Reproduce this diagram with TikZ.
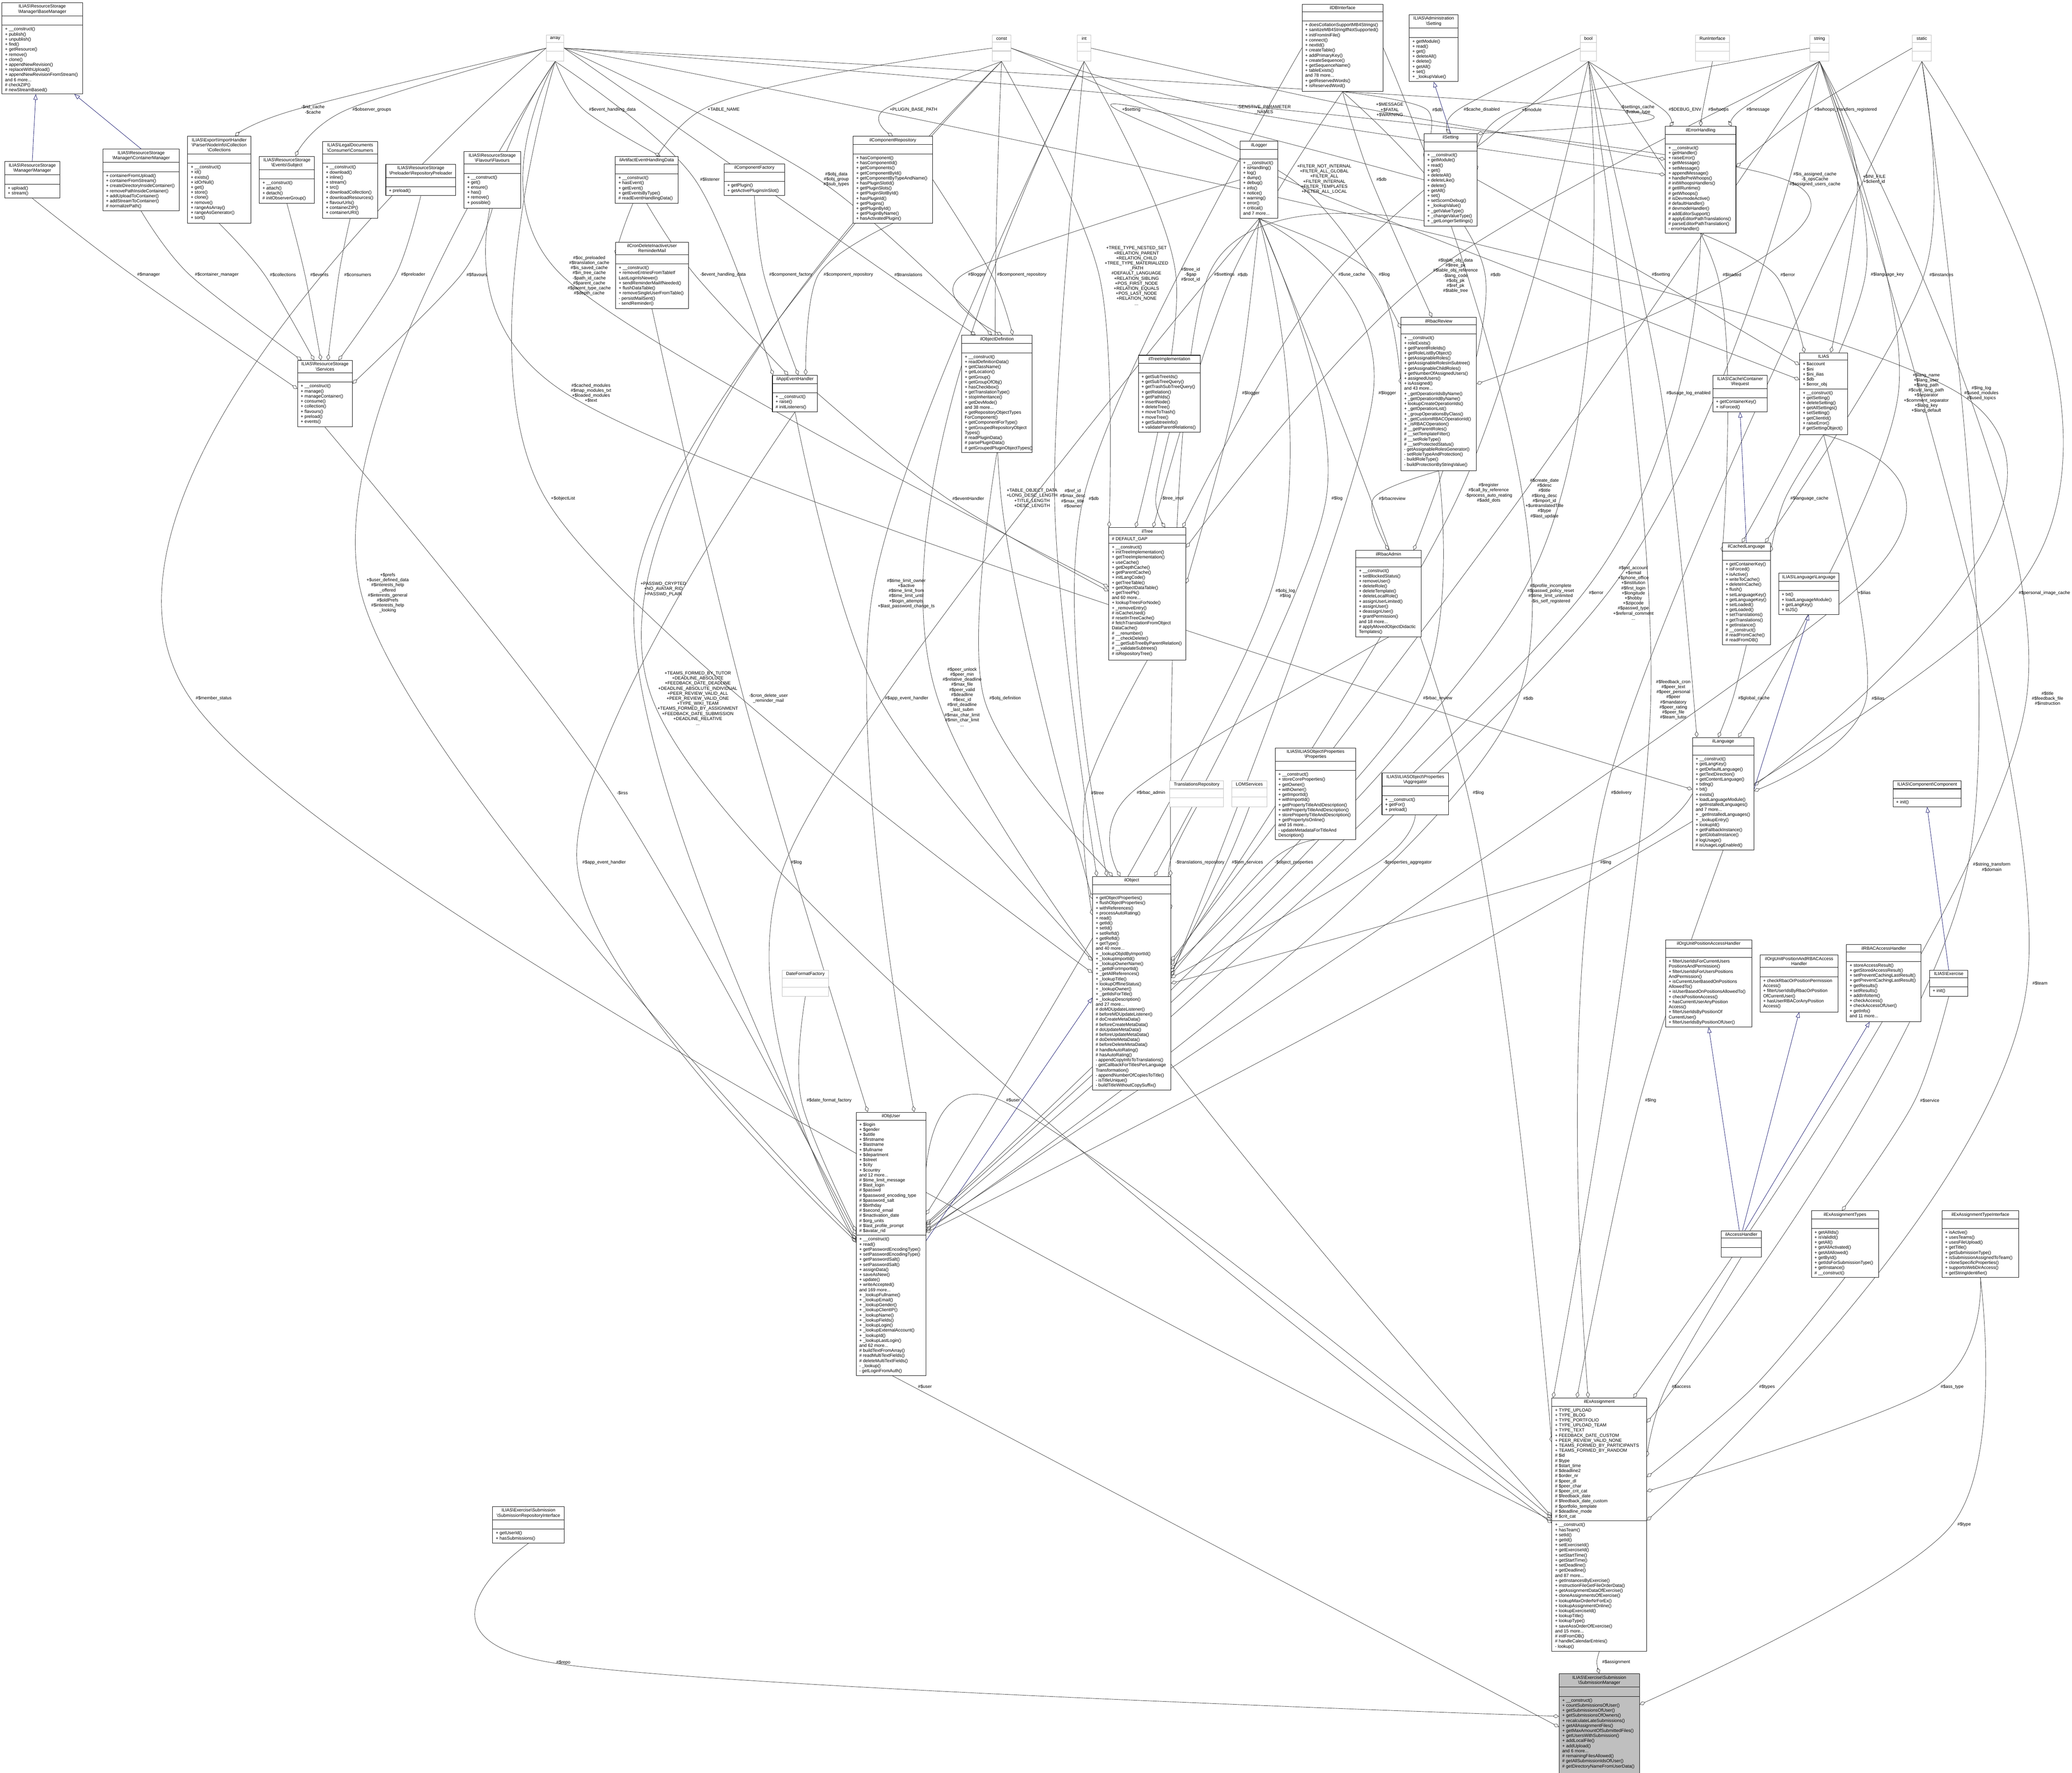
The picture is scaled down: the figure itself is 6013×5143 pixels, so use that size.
\documentclass[tikz,border=0pt]{standalone}
\usepackage{fontspec}
\setmainfont{Liberation Sans}
\usetikzlibrary{arrows.meta,backgrounds}
\definecolor{edgec}{HTML}{404040}
\definecolor{navyc}{HTML}{191970}
\definecolor{greyc}{HTML}{BFBFBF}
\newcommand\tf{\fontsize{3.7pt}{4.18pt}\selectfont}
\newcommand\bs{\textbackslash}
\tikzset{
 frame/.style={draw=black, line width=0.35pt, fill=white, inner sep=0pt},
 gframe/.style={draw=greyc, line width=0.35pt, fill=white, inner sep=0pt},
 ttl/.style={align=center, inner ysep=0.55mm, inner xsep=0.6mm, font=\tf},
 mem/.style={align=left, inner ysep=0.55mm, inner xsep=0.9mm, font=\tf},
 sepl/.style={line width=0.35pt},
 lbl/.style={align=center, font=\tf, inner sep=0.3mm},
 aggr/.style={draw=edgec, line width=0.3pt, -{Diamond[open,length=1.8mm,width=1.1mm]}},
 inhr/.style={draw=navyc, line width=0.3pt, -{Triangle[open,length=1.6mm,width=1.2mm]}},
}
% [style] id, pos, w, h, title, attrs, methods
\newcommand\clsbox[8][frame]{%
 \node[#1, minimum width=#4*0.1mm, minimum height=#5*0.1mm, anchor=north west] (#2) at (#3) {};
 \node[ttl, anchor=north] (#2-t) at (#2.north) {#6};
 \draw[sepl] (#2-t.south -| #2.west) -- (#2-t.south -| #2.east);
 \node[mem, anchor=north west] (#2-a) at (#2-t.south -| #2.west) {#7};
 \draw[sepl] (#2-a.south -| #2.west) -- (#2-a.south -| #2.east);
 \node[mem, anchor=north west] (#2-m) at (#2-a.south -| #2.west) {#8};
}
\newcommand\greybox[4]{% id, pos, w, title
 \node[gframe, minimum width=#3*0.1mm, minimum height=7.6mm, anchor=north west] (#1) at (#2) {};
 \node[ttl, anchor=north] (#1-t) at (#1.north) {#4};
 \draw[greyc, line width=0.35pt] (#1-t.south -| #1.west) -- (#1-t.south -| #1.east);
 \draw[greyc, line width=0.35pt] ([yshift=-2.6mm]#1-t.south -| #1.west) -- ([yshift=-2.6mm]#1-t.south -| #1.east);
}
\newcommand\lab[3]{\node[lbl] (#1) at (#2) {#3};}
\newcommand\agg[3]{\path ([xshift=-1.2mm]#2.west) coordinate (tmpc); \draw[aggr] plot[smooth,tension=0.55] coordinates {(#1) (tmpc) (#3)};}
\newcommand\inh[2]{\draw[inhr] (#1) -- (#2);}
\begin{document}
\begin{tikzpicture}[x=0.1mm, y=-0.1mm]
\useasboundingbox (0,0) rectangle (6013,5143);
% ---------- boxes ----------
\clsbox{bm}{5,7}{234}{265}{ILIAS\bs ResourceStorage\\\bs Manager\bs BaseManager}{\strut}{+ \_\_construct()\\+ publish()\\+ unpublish()\\+ find()\\+ getResource()\\+ remove()\\+ clone()\\+ appendNewRevision()\\+ replaceWithUpload()\\+ appendNewRevisionFromStream()\\and 6 more...\\\# checkZIP()\\\# newStreamBased()}
\clsbox{man}{13,468}{160}{106}{ILIAS\bs ResourceStorage\\\bs Manager\bs Manager}{\strut}{+ upload()\\+ stream()}
\clsbox{cm}{298,432}{222}{179}{ILIAS\bs ResourceStorage\\\bs Manager\bs ContainerManager}{\strut}{+ containerFromUpload()\\+ containerFromStream()\\+ createDirectoryInsideContainer()\\+ removePathInsideContainer()\\+ addUploadToContainer()\\+ addStreamToContainer()\\\# normalizePath()}
\clsbox{col}{544,395}{183}{252}{ILIAS\bs Export\bs ImportHandler\\\bs Parser\bs NodeInfo\bs Collection\\\bs Collections}{\strut}{+ \_\_construct()\\+ id()\\+ exists()\\+ idOrNull()\\+ get()\\+ store()\\+ clone()\\+ remove()\\+ rangeAsArray()\\+ rangeAsGenerator()\\+ sort()}
\clsbox{subj}{752,453}{160}{136}{ILIAS\bs ResourceStorage\\\bs Events\bs Subject}{\strut}{+ \_\_construct()\\+ attach()\\+ detach()\\\# initObserverGroup()}
\clsbox{cons}{936,410}{159}{223}{ILIAS\bs LegalDocuments\\\bs Consumer\bs Consumers}{\strut}{+ \_\_construct()\\+ download()\\+ inline()\\+ stream()\\+ src()\\+ downloadCollection()\\+ downloadResources()\\+ flavourUrls()\\+ containerZIP()\\+ containerURI()}
\clsbox{pre}{1119,476}{203}{91}{ILIAS\bs ResourceStorage\\\bs Preloader\bs RepositoryPreloader}{\strut}{+ preload()}
\clsbox{flav}{1346,439}{164}{165}{ILIAS\bs ResourceStorage\\\bs Flavour\bs Flavours}{\strut}{+ \_\_construct()\\+ get()\\+ ensure()\\+ has()\\+ remove()\\+ possible()}
\clsbox{srv}{863,1045}{159}{193}{ILIAS\bs ResourceStorage\\\bs Services}{\strut}{+ \_\_construct()\\+ manage()\\+ manageContainer()\\+ consume()\\+ collection()\\+ flavours()\\+ preload()\\+ events()}
\greybox{arr}{1585,101}{51}{array}
\greybox{cst}{2879,101}{54}{const}
\greybox{int}{3126,101}{39}{int}
\greybox{bool}{4586,101}{46}{bool}
\greybox{run}{4920,101}{98}{RunInterface}
\greybox{str}{5252,101}{55}{string}
\greybox{stat}{5549,101}{55}{static}
\clsbox{aeh}{1785,453}{182}{136}{ilArtifactEventHandlingData}{\strut}{+ \_\_construct()\\+ hasEvent()\\+ getEvent()\\+ getEventsByType()\\\# readEventHandlingData()}
\clsbox{cfac}{2101,475}{175}{92}{ilComponentFactory}{\strut}{+ getPlugin()\\+ getActivePluginsInSlot()}
\clsbox{crep}{2475,395}{231}{252}{ilComponentRepository}{\strut}{+ hasComponent()\\+ hasComponentId()\\+ getComponents()\\+ getComponentById()\\+ getComponentByTypeAndName()\\+ hasPluginSlotId()\\+ getPluginSlots()\\+ getPluginSlotById()\\+ hasPluginId()\\+ getPlugins()\\+ getPluginById()\\+ getPluginByName()\\+ hasActivatedPlugin()}
\clsbox{cron}{1786,702}{211}{193}{ilCronDeleteInactiveUser\\ReminderMail}{\strut}{+ \_\_construct()\\+ removeEntriesFromTableIf\\LastLoginIsNewer()\\+ sendReminderMailIfNeeded()\\+ flushDataTable()\\+ removeSingleUserFromTable()\\- persistMailSent()\\- sendReminder()}
\clsbox{app}{2241,1088}{131}{106}{ilAppEventHandler}{\strut}{+ \_\_construct()\\+ raise()\\\# initListeners()}
\clsbox{objdef}{2790,972}{205}{340}{ilObjectDefinition}{\strut}{+ \_\_construct()\\+ readDefinitionData()\\+ getClassName()\\+ getLocation()\\+ getGroup()\\+ getGroupOfObj()\\+ hasCheckbox()\\+ getTranslationType()\\+ stopInheritance()\\+ getDevMode()\\and 38 more...\\+ getRepositoryObjectTypes\\ForComponent()\\+ getComponentForType()\\+ getGroupedRepositoryObject\\Types()\\\# readPluginData()\\\# parsePluginData()\\\# getGroupedPluginObjectTypes()}
\clsbox{db}{3778,12}{235}{253}{ilDBInterface}{\strut}{+ doesCollationSupportMB4Strings()\\+ sanitizeMB4StringIfNotSupported()\\+ initFromIniFile()\\+ connect()\\+ nextId()\\+ createTable()\\+ addPrimaryKey()\\+ createSequence()\\+ getSequenceName()\\+ tableExists()\\and 78 more...\\+ getReservedWords()\\+ isReservedWord()}
\clsbox{aset}{4089,42}{142}{194}{ILIAS\bs Administration\\\bs Setting}{\strut}{+ getModule()\\+ read()\\+ get()\\+ deleteAll()\\+ delete()\\+ getAll()\\+ set()\\+ \_lookupValue()}
\clsbox{log}{3598,409}{110}{224}{ilLogger}{\strut}{+ \_\_construct()\\+ isHandling()\\+ log()\\+ dump()\\+ debug()\\+ info()\\+ notice()\\+ warning()\\+ error()\\+ critical()\\and 7 more...}
\clsbox{set}{4132,387}{154}{268}{ilSetting}{\strut}{+ \_\_construct()\\+ getModule()\\+ read()\\+ get()\\+ deleteAll()\\+ deleteLike()\\+ delete()\\+ getAll()\\+ set()\\+ setScormDebug()\\+ \_lookupValue()\\+ \_getValueType()\\+ \_changeValueType()\\+ \_getLongerSettings()}
\clsbox{rr}{4065,920}{219}{445}{ilRbacReview}{\strut}{+ \_\_construct()\\+ roleExists()\\+ getParentRoleIds()\\+ getRoleListByObject()\\+ getAssignableRoles()\\+ getAssignableRolesInSubtree()\\+ getAssignableChildRoles()\\+ getNumberOfAssignedUsers()\\+ assignedUsers()\\+ isAssigned()\\and 43 more...\\+ \_getOperationIdsByName()\\+ \_getOperationIdByName()\\+ lookupCreateOperationIds()\\+ \_getOperationList()\\+ \_groupOperationsByClass()\\+ \_getCustomRBACOperationId()\\+ \_isRBACOperation()\\\# \_\_getParentRoles()\\\# \_\_setTemplateFilter()\\\# \_\_setRoleType()\\\# \_\_setProtectedStatus()\\- getAssignableRolesGenerator()\\- setRoleTypeAndProtection()\\- buildRoleType()\\- buildProtectionByStringValue()}
\clsbox{ti}{3303,1030}{180}{223}{ilTreeImplementation}{\strut}{+ getSubTreeIds()\\+ getSubTreeQuery()\\+ getTrashSubTreeQuery()\\+ getRelation()\\+ getPathIds()\\+ insertNode()\\+ deleteTree()\\+ moveToTrash()\\+ moveTree()\\+ getSubtreeInfo()\\+ validateParentRelations()}
\clsbox{err}{4832,366}{205}{310}{ilErrorHandling}{\strut}{+ \_\_construct()\\+ getHandler()\\+ raiseError()\\+ getMessage()\\+ setMessage()\\+ appendMessage()\\+ handlePreWhoops()\\\# initWhoopsHandlers()\\\# getIlRuntime()\\\# getWhoops()\\\# isDevmodeActive()\\\# defaultHandler()\\\# devmodeHandler()\\\# addEditorSupport()\\\# applyEditorPathTranslations()\\\# parseEditorPathTranslation()\\- errorHandler()}
\clsbox{ilias}{5222,1023}{139}{237}{ILIAS}{+ \$account\\+ \$ini\\+ \$ini\_ilias\\+ \$db\\+ \$error\_obj}{+ \_\_construct()\\+ getSetting()\\+ deleteSetting()\\+ getAllSettings()\\+ setSetting()\\+ getClientId()\\+ raiseError()\\\# getSettingObject()}
\clsbox{req}{4970,1088}{158}{106}{ILIAS\bs Cache\bs Container\\\bs Request}{\strut}{+ getContainerKey()\\+ isForced()}
\clsbox{tree}{3217,1530}{224}{384}{ilTree}{\# DEFAULT\_GAP}{+ \_\_construct()\\+ initTreeImplementation()\\+ getTreeImplementation()\\+ useCache()\\+ getDepthCache()\\+ getParentCache()\\+ initLangCode()\\+ getTreeTable()\\+ getObjectDataTable()\\+ getTreePk()\\and 60 more...\\+ lookupTreesForNode()\\+ \_removeEntry()\\\# isCacheUsed()\\\# resetInTreeCache()\\\# fetchTranslationFromObject\\DataCache()\\\# \_\_renumber()\\\# \_\_checkDelete()\\\# \_\_getSubTreeByParentRelation()\\\# \_\_validateSubtrees()\\\# isRepositoryTree()}
\clsbox{radm}{3934,1596}{190}{251}{ilRbacAdmin}{\strut}{+ \_\_construct()\\+ setBlockedStatus()\\+ removeUser()\\+ deleteRole()\\+ deleteTemplate()\\+ deleteLocalRole()\\+ assignUserLimited()\\+ assignUser()\\+ deassignUser()\\+ grantPermission()\\and 18 more...\\\# applyMovedObjectDidactic\\Templates()}
\clsbox{prop}{3700,2169}{234}{266}{ILIAS\bs ILIASObject\bs Properties\\\bs Properties}{\strut}{+ \_\_construct()\\+ storeCoreProperties()\\+ getOwner()\\+ withOwner()\\+ getImportId()\\+ withImportId()\\+ getPropertyTitleAndDescription()\\+ withPropertyTitleAndDescription()\\+ storePropertyTitleAndDescription()\\+ getPropertyIsOnline()\\and 16 more...\\- updateMetadataForTitleAnd\\Description()}
\greybox{trans}{3394,2264}{156}{TranslationsRepository}
\greybox{lom}{3574,2264}{102}{LOMServices}
\clsbox{agg}{4010,2242}{193}{121}{ILIAS\bs ILIASObject\bs Properties\\\bs Aggregator}{\strut}{+ \_\_construct()\\+ getFor()\\+ preload()}
\clsbox{cl}{4998,1574}{139}{296}{ilCachedLanguage}{\strut}{+ getContainerKey()\\+ isForced()\\+ isActive()\\+ writeToCache()\\+ deleteInCache()\\+ flush()\\+ setLanguageKey()\\+ getLanguageKey()\\+ setLoaded()\\+ getLoaded()\\+ setTranslations()\\+ getTranslations()\\+ getInstance()\\\# \_\_construct()\\\# readFromCache()\\\# readFromDB()}
\clsbox{ll}{5161,1662}{175}{120}{ILIAS\bs Language\bs Language}{\strut}{+ txt()\\+ loadLanguageModule()\\+ getLangKey()\\+ toJS()}
\clsbox{lang}{4911,2139}{178}{326}{ilLanguage}{\strut}{+ \_\_construct()\\+ getLangKey()\\+ getDefaultLanguage()\\+ getTextDirection()\\+ getContentLanguage()\\+ txtlng()\\+ txt()\\+ exists()\\+ loadLanguageModule()\\+ getInstalledLanguages()\\and 7 more...\\+ \_getInstalledLanguages()\\+ \_lookupEntry()\\+ lookupId()\\+ getFallbackInstance()\\+ getGlobalInstance()\\\# logUsage()\\\# isUsageLogEnabled()}
\clsbox{comp}{5493,2264}{198}{76}{ILIAS\bs Component\bs Component}{\strut}{+ init()}
\clsbox{obj}{3170,2542}{227}{620}{ilObject}{\strut}{+ getObjectProperties()\\+ flushObjectProperties()\\+ withReferences()\\+ processAutoRating()\\+ read()\\+ getId()\\+ setId()\\+ setRefId()\\+ getRefId()\\+ getType()\\and 40 more...\\+ \_lookupObjIdByImportId()\\+ \_lookupImportId()\\+ \_lookupOwnerName()\\+ \_getIdForImportId()\\+ \_getAllReferences()\\+ \_lookupTitle()\\+ lookupOfflineStatus()\\+ \_lookupOwner()\\+ \_getIdsForTitle()\\+ \_lookupDescription()\\and 27 more...\\\# doMDUpdateListener()\\\# beforeMDUpdateListener()\\\# doCreateMetaData()\\\# beforeCreateMetaData()\\\# doUpdateMetaData()\\\# beforeUpdateMetaData()\\\# doDeleteMetaData()\\\# beforeDeleteMetaData()\\\# handleAutoRating()\\\# hasAutoRating()\\- appendCopyInfoToTranslations()\\- getCallbackForTitlesPerLanguage\\Transformation()\\- appendNumberOfCopiesToTitle()\\- isTitleUnique()\\- buildTitleWithoutCopySuffix()}
\greybox{dff}{2269,2814}{135}{DateFormatFactory}
\clsbox{user}{2484,3226}{202}{764}{ilObjUser}{+ \$login\\+ \$gender\\+ \$utitle\\+ \$firstname\\+ \$lastname\\+ \$fullname\\+ \$department\\+ \$street\\+ \$city\\+ \$country\\and 12 more...\\\# \$time\_limit\_message\\\# \$last\_login\\\# \$passwd\\\# \$password\_encoding\_type\\\# \$password\_salt\\\# \$birthday\\\# \$second\_email\\\# \$inactivation\_date\\\# \$org\_units\\\# \$last\_profile\_prompt\\\# \$avatar\_rid}{+ \_\_construct()\\+ read()\\+ getPasswordEncodingType()\\+ setPasswordEncodingType()\\+ getPasswordSalt()\\+ setPasswordSalt()\\+ assignData()\\+ saveAsNew()\\+ update()\\+ writeAccepted()\\and 169 more...\\+ \_lookupFullname()\\+ \_lookupEmail()\\+ \_lookupGender()\\+ \_lookupClientIP()\\+ \_lookupName()\\+ \_lookupFields()\\+ \_lookupLogin()\\+ \_lookupExternalAccount()\\+ \_lookupId()\\+ \_lookupLastLogin()\\and 62 more...\\\# buildTextFromArray()\\\# readMultiTextFields()\\\# deleteMultiTextFields()\\- \_lookup()\\- getLoginFromAuth()}
\clsbox{oph}{4833,2726}{250}{253}{ilOrgUnitPositionAccessHandler}{\strut}{+ filterUserIdsForCurrentUsers\\PositionsAndPermission()\\+ filterUserIdsForUsersPositions\\AndPermission()\\+ isCurrentUserBasedOnPositions\\AllowedTo()\\+ isUserBasedOnPositionsAllowedTo()\\+ checkPositionAccess()\\+ hasCurrentUserAnyPosition\\Access()\\+ filterUserIdsByPositionOf\\CurrentUser()\\+ filterUserIdsByPositionOfUser()}
\clsbox{oprb}{5107,2770}{227}{165}{ilOrgUnitPositionAndRBACAccess\\Handler}{\strut}{+ checkRbacOrPositionPermission\\Access()\\+ filterUserIdsByRbacOrPosition\\OfCurrentUser()\\+ hasUserRBACorAnyPosition\\Access()}
\clsbox{rbach}{5358,2740}{216}{223}{ilRBACAccessHandler}{\strut}{+ storeAccessResult()\\+ getStoredAccessResult()\\+ setPreventCachingLastResult()\\+ getPreventCachingLastResult()\\+ getResults()\\+ setResults()\\+ addInfoItem()\\+ checkAccess()\\+ checkAccessOfUser()\\+ getInfo()\\and 11 more...}
\clsbox{ex}{5599,2814}{111}{76}{ILIAS\bs Exercise}{\strut}{+ init()}
\clsbox{acc}{4994,3570}{117}{76}{ilAccessHandler}{\strut}{\strut}
\clsbox{types}{5256,3512}{195}{193}{ilExAssignmentTypes}{\strut}{+ getAllIds()\\+ isValidId()\\+ getAll()\\+ getAllActivated()\\+ getAllAllowed()\\+ getById()\\+ getIdsForSubmissionType()\\+ getInstance()\\\# \_\_construct()}
\clsbox{tint}{5635,3512}{223}{193}{ilExAssignmentTypeInterface}{\strut}{+ isActive()\\+ usesTeams()\\+ usesFileUpload()\\+ getTitle()\\+ getSubmissionType()\\+ isSubmissionAssignedToTeam()\\+ cloneSpecificProperties()\\+ supportsWebDirAccess()\\+ getStringIdentifier()}
\clsbox{exa}{4503,4055}{275}{735}{ilExAssignment}{+ TYPE\_UPLOAD\\+ TYPE\_BLOG\\+ TYPE\_PORTFOLIO\\+ TYPE\_UPLOAD\_TEAM\\+ TYPE\_TEXT\\+ FEEDBACK\_DATE\_CUSTOM\\+ PEER\_REVIEW\_VALID\_NONE\\+ TEAMS\_FORMED\_BY\_PARTICIPANTS\\+ TEAMS\_FORMED\_BY\_RANDOM\\\# \$id\\\# \$type\\\# \$start\_time\\\# \$deadline2\\\# \$order\_nr\\\# \$peer\_dl\\\# \$peer\_char\\\# \$peer\_crit\_cat\\\# \$feedback\_date\\\# \$feedback\_date\_custom\\\# \$portfolio\_template\\\# \$deadline\_mode\\\# \$crit\_cat}{+ \_\_construct()\\+ hasTeam()\\+ setId()\\+ getId()\\+ setExerciseId()\\+ getExerciseId()\\+ setStartTime()\\+ getStartTime()\\+ setDeadline()\\+ getDeadline()\\and 87 more...\\+ getInstancesByExercise()\\+ instructionFileGetFileOrderData()\\+ getAssignmentDataOfExercise()\\+ cloneAssignmentsOfExercise()\\+ lookupMaxOrderNrForEx()\\+ lookupAssignmentOnline()\\+ lookupExerciseId()\\+ lookupTitle()\\+ lookupType()\\+ saveAssOrderOfExercise()\\and 15 more...\\\# initFromDB()\\\# handleCalendarEntries()\\- lookup()}
\clsbox[frame,fill=greyc]{sm}{4524,4855}{233}{288}{ILIAS\bs Exercise\bs Submission\\\bs SubmissionManager}{\strut}{+ \_\_construct()\\+ countSubmissionsOfUser()\\+ getSubmissionsOfUser()\\+ getSubmissionsOfOwners()\\+ recalculateLateSubmissions()\\+ getAllAssignmentFiles()\\+ getMaxAmountOfSubmittedFiles()\\+ getUsersWithSubmission()\\+ addLocalFile()\\+ addUpload()\\and 6 more...\\\# remainingFilesAllowed()\\\# getAllSubmissionIdsOfUser()\\\# getDirectoryNameFromUserData()}
\clsbox{sri}{1429,4370}{208}{106}{ILIAS\bs Exercise\bs Submission\\\bs SubmissionRepositoryInterface}{\strut}{+ getUserId()\\+ hasSubmissions()}
% ---------- labels ----------
\lab{L1}{431,797}{\#\$manager}
\lab{L2}{629,797}{\#\$container\_manager}
\lab{L3}{821,797}{\#\$collections}
\lab{L4}{927,797}{\#\$events}
\lab{L5}{1038,797}{\#\$consumers}
\lab{L6}{1199,797}{\#\$preloader}
\lab{L7}{1384,797}{\#\$flavours}
\lab{L8}{908,318}{-\$rid\_cache\\-\$cache}
\lab{L9}{1079,318}{\#\$observer\_groups}
\lab{L10}{1777,318}{\#\$event\_handling\_data}
\lab{L11}{2100,318}{+TABLE\_NAME}
\lab{L12}{2651,318}{+PLUGIN\_BASE\_PATH}
\lab{L13}{2427,520}{\#\$obj\_data\\\#\$obj\_group\\\#\$sub\_types}
\lab{L14}{2060,520}{\#\$listener}
\lab{L15}{2098,797}{-\$event\_handling\_data}
\lab{L16}{2295,797}{\#\$component\_factory}
\lab{L17}{2462,797}{\#\$component\_repository}
\lab{L18}{2965,797}{\#\$component\_repository}
\lab{L19}{2636,797}{\#\$translations}
\lab{L20}{2835,797}{\#\$logger}
\lab{L21}{1710,800}{\#\$oc\_preloaded\\\#\$translation\_cache\\\#\$is\_saved\_cache\\\#\$in\_tree\_cache\\-\$path\_id\_cache\\\#\$parent\_cache\\\#\$parent\_type\_cache\\\#\$depth\_cache}
\lab{L22}{1715,1140}{\#\$cached\_modules\\\#\$map\_modules\_txt\\+\$loaded\_modules\\+\$text}
\lab{L23}{1634,1446}{+\$objectList}
\lab{L24}{1925,1709}{+PASSWD\_CRYPTED\\+NO\_AVATAR\_RID\\+PASSWD\_PLAIN}
\lab{L25}{2025,2026}{+TEAMS\_FORMED\_BY\_TUTOR\\+DEADLINE\_ABSOLUTE\\+FEEDBACK\_DATE\_DEADLINE\\+DEADLINE\_ABSOLUTE\_INDIVIDUAL\\+PEER\_REVIEW\_VALID\_ALL\\+PEER\_REVIEW\_VALID\_ONE\\+TYPE\_WIKI\_TEAM\\+TEAMS\_FORMED\_BY\_ASSIGNMENT\\+FEEDBACK\_DATE\_SUBMISSION\\+DEADLINE\_RELATIVE\\...}
\lab{L26}{2230,2026}{-\$cron\_delete\_user\\\_reminder\_mail}
\lab{L27}{2630,1722}{\#\$time\_limit\_owner\\+\$active\\\#\$time\_limit\_from\\\#\$time\_limit\_until\\+\$login\_attempts\\+\$last\_password\_change\_ts}
\lab{L28}{2792,2022}{\#\$peer\_unlock\\\#\$peer\_min\\\#\$relative\_deadline\\\#\$max\_file\\\#\$peer\_valid\\\#\$deadline\\\#\$exc\_id\\\#\$rel\_deadline\\\_last\_subm\\\#\$max\_char\_limit\\\#\$min\_char\_limit\\...}
\lab{L29}{2631,2026}{\#\$app\_event\_handler}
\lab{L30}{1753,2502}{\#\$app\_event\_handler}
\lab{L31}{2311,2502}{\#\$log}
\lab{L32}{2917,2026}{\#\$obj\_definition}
\lab{L33}{2810,1446}{\#\$eventHandler}
\lab{L34}{2995,1446}{+TABLE\_OBJECT\_DATA\\+LONG\_DESC\_LENGTH\\+TITLE\_LENGTH\\+DESC\_LENGTH}
\lab{L35}{3283,318}{+\$setting}
\lab{L36}{3668,318}{-SENSTIVE\_PARAMETER\\\_NAMES}
\lab{L37}{4033,318}{+\$MESSAGE\\+\$FATAL\\+\$WARNING}
\lab{L38}{4171,318}{\#\$db}
\lab{L39}{4300,318}{\#\$cache\_disabled}
\lab{L40}{4445,318}{+\$module}
\lab{L41}{3843,520}{+FILTER\_NOT\_INTERNAL\\+FILTER\_ALL\_GLOBAL\\+FILTER\_ALL\\+FILTER\_INTERNAL\\+FILTER\_TEMPLATES\\+FILTER\_ALL\_LOCAL}
\lab{L42}{4009,520}{\#\$db}
\lab{L43}{3298,800}{+TREE\_TYPE\_NESTED\_SET\\+RELATION\_PARENT\\+RELATION\_CHILD\\+TREE\_TYPE\_MATERIALIZED\\\_PATH\\\#DEFAULT\_LANGUAGE\\+RELATION\_SIBLING\\+POS\_FIRST\_NODE\\+RELATION\_EQUALS\\+POS\_LAST\_NODE\\+RELATION\_NONE\\...}
\lab{L44}{3455,797}{\#\$tree\_id\\-\$gap\\\#\$root\_id}
\lab{L45}{3553,797}{\#\$settings}
\lab{L46}{3606,797}{\#\$db}
\lab{L47}{3923,797}{\#\$use\_cache}
\lab{L48}{4017,797}{\#\$log}
\lab{L49}{4224,800}{\#\$table\_obj\_data\\\#\$tree\_pk\\\#\$table\_obj\_reference\\-\$lang\_code\\\#\$obj\_pk\\\#\$ref\_pk\\\#\$table\_tree}
\lab{L50}{4340,797}{\#\$db}
\lab{L51}{3630,1141}{\#\$logger}
\lab{L52}{4026,1141}{\#\$logger}
\lab{L53}{3402,1446}{-\$tree\_impl}
\lab{L54}{3113,1446}{\#\$ref\_id\\\#\$max\_desc\\\#\$max\_title\\\#\$owner}
\lab{L55}{3174,1446}{\#\$db}
\lab{L56}{3880,1446}{\#\$log}
\lab{L57}{4040,1446}{\#\$rbacreview}
\lab{L58}{4320,1430}{\#\$register\\\#\$call\_by\_reference\\-\$process\_auto\_reating\\\#\$add\_dots}
\lab{L59}{4482,1446}{\#\$create\_date\\\#\$desc\\\#\$title\\\#\$long\_desc\\\#\$import\_id\\+\$untranslatedTitle\\\#\$type\\\#\$last\_update}
\lab{L60}{3730,1722}{\#\$obj\_log\\\#\$log}
\lab{L61}{4172,2026}{\#\$rbac\_review}
\lab{L62}{4435,2026}{\#\$db}
\lab{L63}{3185,2300}{\#\$tree}
\lab{L64}{3340,2300}{\#\$rbac\_admin}
\lab{L65}{3482,2502}{-\$translations\_repository}
\lab{L66}{3620,2502}{\#\$lom\_services}
\lab{L67}{3755,2502}{-\$object\_properties}
\lab{L68}{4085,2502}{-\$properties\_aggregator}
\lab{L69}{4290,2300}{\#\$log}
\lab{L70}{4500,1722}{\#\$profile\_incomplete\\\#\$passwd\_policy\_reset\\\#\$time\_limit\_unlimited\\-\$is\_self\_registered}
\lab{L71}{4752,318}{-\$settings\_cache\\-\$value\_type}
\lab{L72}{4890,318}{\#\$DEBUG\_ENV}
\lab{L73}{4987,318}{\#\$whoops}
\lab{L74}{5102,318}{\#\$message}
\lab{L75}{5356,318}{\#\$whoops\_handlers\_registered}
\lab{L76}{5267,520}{\#\$is\_assigned\_cache\\-\$\_opsCache\\\#\$assigned\_users\_cache}
\lab{L77}{5439,520}{+\$INI\_FILE\\+\$client\_id}
\lab{L78}{4820,797}{\#\$setting}
\lab{L79}{5026,797}{\#\$loaded}
\lab{L80}{5188,797}{\#\$error}
\lab{L81}{5477,797}{\#\$language\_key}
\lab{L82}{5634,797}{\#\$instances}
\lab{L83}{4900,1141}{\#\$usage\_log\_enabled}
\lab{L84}{5590,1140}{+\$lang\_name\\+\$lang\_user\\+\$lang\_path\\\#\$cust\_lang\_path\\+\$separator\\+\$comment\_separator\\+\$lang\_key\\+\$lang\_default}
\lab{L85}{5750,1141}{\#\$lng\_log\\\#\$used\_modules\\\#\$used\_topics}
\lab{L86}{5251,1446}{\#\$language\_cache}
\lab{L87}{4740,1720}{\#\$ext\_account\\+\$email\\+\$phone\_office\\+\$institution\\\#\$first\_login\\+\$longitude\\+\$hobby\\+\$zipcode\\\#\$passwd\_type\\+\$referral\_comment\\...}
\lab{L88}{4632,1720}{\#\$error}
\lab{L89}{5410,1720}{+\$ilias}
\lab{L90}{5933,1720}{\#\$personal\_image\_cache}
\lab{L91}{4856,2030}{\#\$feedback\_cron\\\#\$peer\_text\\\#\$peer\_personal\\\#\$peer\\\#\$mandatory\\\#\$peer\_rating\\\#\$peer\_file\\\#\$team\_tutor}
\lab{L92}{5090,2026}{\#\$global\_cache}
\lab{L93}{5450,2026}{\#\$ilias}
\lab{L94}{4660,2502}{\#\$lng}
\lab{L95}{4705,2300}{\#\$delivery}
\lab{L96}{5942,2026}{\#\$title\\\#\$feedback\_file\\\#\$instruction}
\lab{L97}{5780,2515}{\#\$string\_transform\\\#\$domain}
\lab{L98}{4790,3193}{\#\$lng}
\lab{L99}{5600,3193}{\#\$service}
\lab{L100}{5920,2852}{\#\$team}
\lab{L101}{4879,4023}{\#\$access}
\lab{L102}{5128,4023}{\#\$types}
\lab{L103}{5665,4023}{\#\$ass\_type}
\lab{L104}{5700,4423}{\#\$type}
\lab{L105}{4690,4822}{\#\$assignment}
\lab{L106}{1635,4823}{\#\$repo}
\lab{L107}{2684,4022}{\#\$user}
\lab{L108}{620,2026}{\#\$member\_status}
\lab{L109}{1125,1720}{+\$prefs\\+\$user\_defined\_data\\\#\$interests\_help\\\_offered\\\#\$interests\_general\\\#\$oldPrefs\\\#\$interests\_help\\\_looking}
\lab{L110}{2406,3192}{\#\$date\_format\_factory}
\lab{L111}{2940,3192}{\#\$user}
\lab{L112}{1806,2300}{-\$irss}
% ---------- edges ----------
\begin{pgfonlayer}{background}
\agg{man.south}{L1}{srv.170}
\agg{cm.south}{L2}{srv.125}
\agg{col.south}{L3}{srv.108}
\agg{subj.south}{L4}{srv.97}
\agg{cons.south}{L5}{srv.85}
\agg{pre.south}{L6}{srv.68}
\agg{flav.south}{L7}{srv.20}
\inh{man.north}{bm.-98}
\inh{cm.north}{bm.-55}
\agg{arr.west}{L8}{col.70}
\agg{arr.west}{L9}{subj.70}
\agg{arr.south}{L10}{aeh.60}
\agg{cst.west}{L11}{cron.150}
\agg{cst.south}{L12}{crep.north}
\agg{arr.east}{L13}{objdef.95}
\agg{arr.south}{L14}{app.140}
\agg{aeh.south}{L15}{app.110}
\agg{cfac.south}{L16}{app.80}
\agg{crep.south}{L17}{app.60}
\agg{crep.east}{L18}{objdef.75}
\agg{arr.east}{L19}{objdef.110}
\agg{log.west}{L20}{objdef.85}
\agg{arr.south}{L21}{tree.170}
\agg{arr.south}{L22}{lang.172}
\agg{arr.south}{L23}{obj.165}
\agg{cst.south}{L24}{user.174}
\agg{cst.south}{L25}{exa.178}
\agg{cron.south}{L26}{user.100}
\agg{int.south}{L27}{user.80}
\agg{int.south}{L28}{exa.170}
\agg{app.south}{L29}{obj.150}
\agg{app.south}{L30}{user.176}
\agg{log.south}{L31}{user.178}
\agg{objdef.south}{L32}{obj.100}
\agg{app.east}{L33}{tree.176}
\agg{cst.south}{L34}{obj.115}
\agg{set.west}{L35}{ilias.150}
\agg{cst.east}{L36}{err.172}
\agg{int.east}{L37}{err.150}
\agg{db.south}{L38}{set.140}
\agg{bool.west}{L39}{set.90}
\agg{str.west}{L40}{set.20}
\inh{set.north}{aset.south}
\agg{cst.east}{L41}{rr.120}
\agg{db.south}{L42}{rr.95}
\agg{cst.south}{L43}{tree.120}
\agg{int.south}{L44}{tree.100}
\agg{set.south}{L45}{obj.70}
\agg{db.south}{L46}{tree.85}
\agg{bool.south}{L47}{tree.62}
\agg{log.south}{L48}{rr.165}
\agg{str.south}{L49}{tree.50}
\agg{db.south}{L50}{radm.60}
\agg{log.south}{L51}{tree.15}
\agg{log.south}{L52}{obj.10}
\agg{ti.south}{L53}{tree.75}
\agg{int.south}{L54}{obj.108}
\agg{db.west}{L55}{obj.103}
\agg{log.south}{L56}{obj.78}
\agg{rr.south}{L57}{radm.90}
\agg{bool.south}{L58}{obj.25}
\agg{str.south}{L59}{obj.30}
\agg{log.south}{L60}{user.40}
\agg{rr.south}{L61}{obj.20}
\agg{db.east}{L62}{user.20}
\agg{tree.south}{L63}{obj.120}
\agg{radm.south}{L64}{obj.96}
\agg{trans.south}{L65}{obj.62}
\agg{lom.south}{L66}{obj.15}
\agg{prop.south}{L67}{obj.12}
\agg{agg.south}{L68}{obj.8}
\agg{log.south}{L69}{exa.120}
\agg{bool.south}{L70}{user.30}
\agg{arr.east}{L71}{set.60}
\agg{bool.south}{L72}{err.120}
\agg{run.south}{L73}{err.90}
\agg{str.south}{L74}{err.60}
\agg{stat.west}{L75}{err.20}
\agg{arr.east}{L76}{rr.15}
\agg{str.south}{L77}{ilias.80}
\agg{set.east}{L78}{ilias.130}
\agg{bool.south}{L79}{cl.120}
\agg{err.south}{L80}{ilias.115}
\agg{str.south}{L81}{cl.95}
\agg{stat.south}{L82}{cl.70}
\agg{bool.south}{L83}{lang.115}
\agg{str.south}{L84}{lang.75}
\agg{arr.east}{L85}{lang.15}
\inh{cl.north}{req.south}
\agg{ilias.south}{L86}{cl.60}
\agg{str.south}{L87}{user.25}
\agg{err.south}{L88}{user.28}
\agg{ilias.south}{L89}{user.22}
\agg{stat.south}{L90}{user.18}
\agg{bool.south}{L91}{exa.110}
\agg{cl.south}{L92}{lang.95}
\agg{ilias.south}{L93}{lang.5}
\inh{lang.8}{ll.south}
\agg{lang.west}{L94}{obj.0}
\agg{stat.south}{L95}{exa.95}
\agg{str.south}{L96}{exa.75}
\agg{stat.south}{L97}{exa.65}
\agg{lang.south}{L98}{exa.100}
\agg{ex.south}{L99}{types.95}
\agg{str.south}{L100}{exa.5}
\inh{acc.98}{oph.south}
\inh{acc.85}{oprb.south}
\inh{acc.75}{rbach.-110}
\inh{ex.north}{comp.south}
\agg{acc.south}{L101}{exa.55}
\agg{types.south}{L102}{exa.45}
\agg{tint.south}{L103}{exa.35}
\agg{tint.south}{L104}{sm.25}
\agg{exa.south}{L105}{sm.north}
\agg{sri.south}{L106}{sm.170}
\agg{user.south}{L107}{sm.185}
\agg{arr.west}{L108}{exa.175}
\agg{arr.south}{L109}{user.172}
\agg{dff.south}{L110}{user.160}
\agg{user.east}{L111}{exa.172}
\inh{user.5}{obj.-160}
\agg{srv.south}{L112}{user.165}
\end{pgfonlayer}
\end{tikzpicture}
\end{document}
